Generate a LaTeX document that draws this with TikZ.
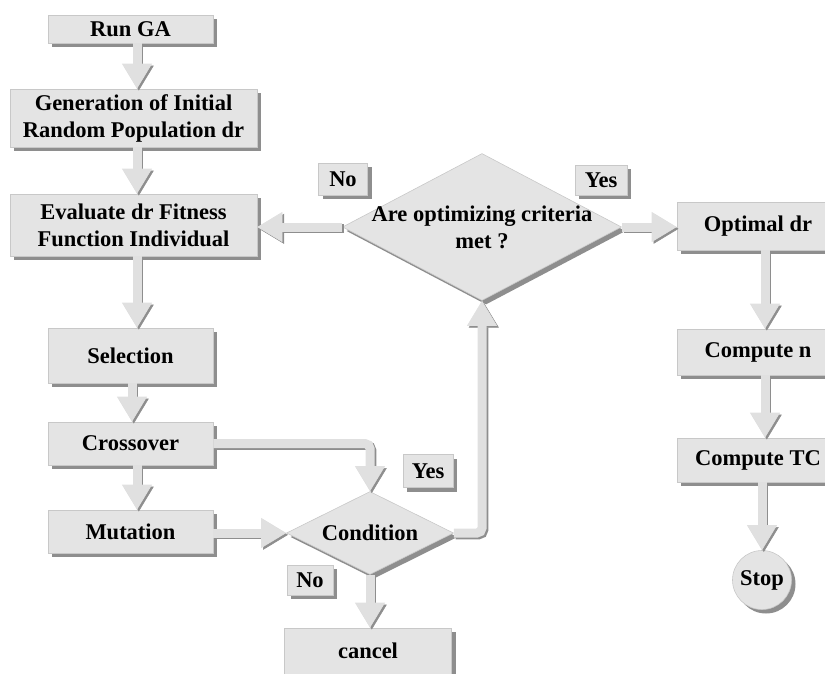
\documentclass[tikz,border=0pt]{standalone}
\usepackage{fontspec}
\setmainfont{Liberation Serif}
\usetikzlibrary{arrows.meta,shapes.geometric,shadows,calc}
\definecolor{boxfill}{HTML}{E4E4E4}
\definecolor{boxline}{HTML}{C8C8C8}
\definecolor{shade}{HTML}{8E8E8E}
\definecolor{arrowfill}{HTML}{E0E0E0}

\begin{document}
\begin{tikzpicture}[x=1pt,y=-1pt,
  txt/.style={font=\fontsize{22.5}{27}\selectfont\bfseries, align=center},
  shadowed/.style={drop shadow={shadow xshift=4pt,shadow yshift=-4pt,fill=shade,opacity=1}},
  box/.style={rectangle, txt, fill=boxfill, draw=boxline, line width=0.6pt, inner sep=0pt, shadowed},
  tag/.style={box},
  dia/.style={diamond, fill=boxfill, draw=boxline, line width=0.6pt, inner sep=0pt, shadowed},
  tip/.style={-{Triangle[width=30pt,length=25pt,line width=0.6pt]}},
  flow/.style={line width=9pt, draw=arrowfill, tip, rounded corners=5pt,
    preaction={draw=shade, line width=9pt, tip,
      transform canvas={shift={(1.8pt,-1.8pt)}}}},
]
\useasboundingbox (0,0) rectangle (825,673);
\clip (0,0) rectangle (825,673);

% left column of GA steps
\node[box, minimum width=165pt, minimum height=28pt] (run) at (130.5,29) {Run GA};
\node[box, minimum width=247pt, minimum height=58pt] (gen) at (133.5,118) {Generation of Initial\\Random Population dr};
\node[box, minimum width=247pt, minimum height=62pt] (eval) at (133.5,225) {Evaluate dr Fitness\\Function Individual};
\node[box, minimum width=165pt, minimum height=55pt] (sel) at (130.5,355.5) {Selection};
\node[box, minimum width=165pt, minimum height=43pt] (cross) at (130.5,443.5) {Crossover};
\node[box, minimum width=165pt, minimum height=43pt] (mut) at (130.5,531.5) {Mutation};

% decisions
\node[dia, minimum width=279pt, minimum height=147pt,
  label={[txt]center:{Are optimizing criteria\\met ?}}] (crit) at (482,227) {};
\node[dia, minimum width=167pt, minimum height=83pt,
  label={[txt]center:Condition}] (cond) at (370,533) {};

% branch tags
\node[tag, minimum width=49pt, minimum height=32pt] (no1) at (343,179) {No};
\node[tag, minimum width=52pt, minimum height=30pt] (yes1) at (601,180) {Yes};
\node[tag, minimum width=50pt, minimum height=33pt] (yes2) at (428,471) {Yes};
\node[tag, minimum width=46pt, minimum height=30pt] (no2) at (310,580) {No};

\node[box, minimum width=167pt, minimum height=46pt] (cancel) at (368,651) {cancel};

% right column
\node[box, minimum width=162pt, minimum height=48pt] (opt) at (758,226) {Optimal dr};
\node[box, minimum width=162pt, minimum height=46pt] (cn) at (758,352) {Compute n};
\node[box, minimum width=162pt, minimum height=44pt] (ctc) at (758,460) {Compute TC};
\node[circle, txt, fill=boxfill, draw=boxline, line width=0.6pt, inner sep=0pt,
  minimum size=59pt, shadowed] (stop) at (762,580) {Stop};

% connectors
\draw[flow] (run.south -| 137,0) -- (gen.north -| 137,0);
\draw[flow] (gen.south -| 137,0) -- (eval.north -| 137,0);
\draw[flow] (eval.south -| 137,0) -- (sel.north -| 137,0);
\draw[flow] (sel.south -| 132,0) -- (cross.north -| 132,0);
\draw[flow] (cross.south -| 137,0) -- (mut.north -| 137,0);
\draw[flow] (cross.east) -- (cross.east -| cond.north) -- (cond.north);
\draw[flow] (mut.east |- cond.west) -- (cond.west);
\draw[flow] (cond.east) -- (cond.east -| crit.south) -- (crit.south);
\draw[flow] (crit.west) -- (crit.west -| eval.east);
\draw[flow] (crit.east) -- (crit.east -| opt.west);
\draw[flow] (opt.south -| 765,0) -- (cn.north -| 765,0);
\draw[flow] (cn.south -| 765,0) -- (ctc.north -| 765,0);
\draw[flow] (ctc.south -| stop.north) -- (stop.north);
\draw[flow] (cond.south) -- (cond.south |- cancel.north);
\end{tikzpicture}
\end{document}
